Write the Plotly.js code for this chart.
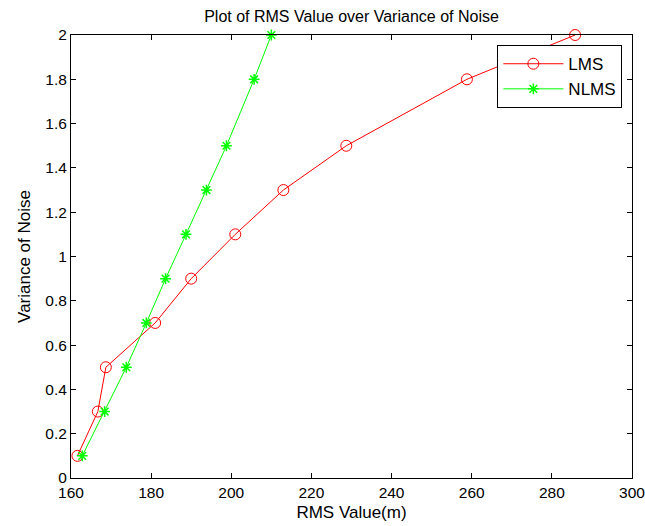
<!DOCTYPE html>
<html><head><meta charset="utf-8">
<script src="https://cdn.plot.ly/plotly-3.0.1.min.js"></script>
<style>html,body{margin:0;padding:0;background:#fff}#chart{width:645px;height:526px}</style>
</head><body><div id="chart"></div>
<script>
const noiseVariance = [0.1, 0.3, 0.5, 0.7, 0.9, 1.1, 1.3, 1.5, 1.8, 2.0];
const lmsRms = [161.6, 166.7, 168.7, 181.0, 190.0, 201.0, 213.0, 228.7, 258.8, 285.8];
const nlmsRms = [162.8, 168.4, 173.8, 178.8, 183.6, 188.7, 193.8, 198.8, 205.7, 210.0];
const seriesNames = ['LMS', 'NLMS'];

const font = 'Liberation Sans, Arial, sans-serif';
const data = [
  {x: lmsRms, y: noiseVariance, name: seriesNames[0], mode: 'lines+markers', cliponaxis: false,
   line: {color: '#ff0000', width: 1}, marker: {symbol: 'circle-open', size: 11, color: '#ff0000', line: {width: 1, color: '#ff0000'}}},
  {x: nlmsRms, y: noiseVariance, name: seriesNames[1], mode: 'lines+markers', cliponaxis: false,
   line: {color: '#00ff00', width: 1}, marker: {symbol: 'asterisk-open', size: 9, color: '#00ff00', line: {width: 1.5, color: '#00ff00'}}}
];
const axisCommon = {showline: true, mirror: 'ticks', linecolor: '#000', linewidth: 1, ticks: 'inside', ticklen: 5,
  tickcolor: '#000', showgrid: false, zeroline: false, ticklabeloverflow: 'allow',
  tickfont: {family: font, size: 15.5, color: '#000'}};
const layout = {
  width: 645, height: 526,
  margin: {l: 70.5, r: 13, t: 35, b: 48},
  paper_bgcolor: '#fff', plot_bgcolor: '#fff',
  title: {text: 'Plot of RMS Value over Variance of Noise', font: {family: font, size: 16, color: '#000'},
    xref: 'paper', x: 0.5, xanchor: 'center', yref: 'container', y: 0.969, yanchor: 'middle'},
  xaxis: Object.assign({}, axisCommon, {range: [160, 300], dtick: 20, tick0: 160,
    title: {text: 'RMS Value(m)', font: {family: font, size: 17, color: '#000'}, standoff: 6}}),
  yaxis: Object.assign({}, axisCommon, {range: [0, 2], dtick: 0.2, tick0: 0,
    title: {text: 'Variance of Noise', font: {family: font, size: 17, color: '#000'}, standoff: 10}}),
  legend: {x: 0.76, y: 0.977, xanchor: 'left', yanchor: 'top', bgcolor: '#fff', bordercolor: '#000', borderwidth: 1,
    font: {family: font, size: 17, color: '#000'}, itemwidth: 60, tracegroupgap: 0},
  showlegend: true
};
Plotly.newPlot('chart', data, layout, {displayModeBar: false, staticPlot: true});
</script></body></html>
